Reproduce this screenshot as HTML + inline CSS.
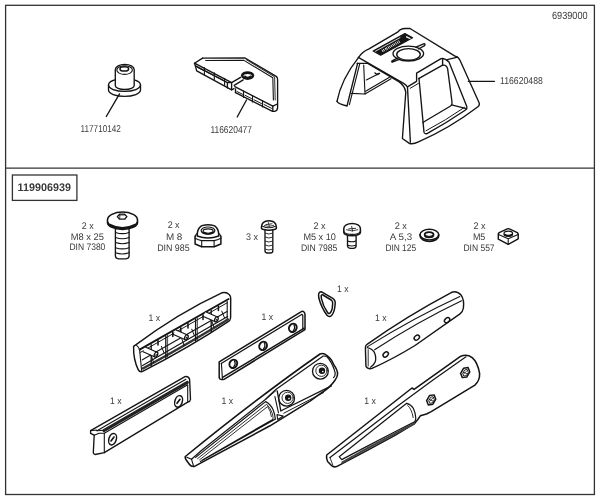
<!DOCTYPE html>
<html><head><meta charset="utf-8">
<style>
html,body{margin:0;padding:0;background:#fff;width:600px;height:500px;overflow:hidden}
svg{display:block;will-change:transform}
text{font-family:"Liberation Sans",sans-serif;fill:#3a3a3a;text-rendering:geometricPrecision}
</style></head><body>
<svg width="600" height="500" viewBox="0 0 600 500">
<rect x="0" y="0" width="600" height="500" fill="#fff"/>
<!-- frame -->
<g fill="none" stroke="#333" stroke-width="1.3">
<rect x="5.6" y="5.3" width="588.8" height="489.2"/>
<line x1="5.6" y1="168.1" x2="594.4" y2="168.1" stroke-width="1.4"/>
<rect x="12.4" y="175" width="64.5" height="25.4" stroke-width="1.3"/>
</g>
<!-- top labels -->
<g font-size="10">
<text x="552" y="18.8" font-size="10.5" textLength="35.6" lengthAdjust="spacingAndGlyphs">6939000</text>
<text x="80.6" y="131.7" textLength="40.2" lengthAdjust="spacingAndGlyphs">117710142</text>
<text x="210.4" y="132.5" textLength="41.6" lengthAdjust="spacingAndGlyphs">116620477</text>
<text x="500" y="83.8" textLength="42.8" lengthAdjust="spacingAndGlyphs">116620488</text>
</g>
<text x="17.6" y="190.7" font-size="11" font-weight="bold" fill="#151515" textLength="53.3" lengthAdjust="spacingAndGlyphs">119906939</text>
<!-- hardware labels -->
<g font-size="9.5" text-anchor="middle" lengthAdjust="spacingAndGlyphs">
<text x="87.8" y="228.7" textLength="11.90" lengthAdjust="spacingAndGlyphs">2 x</text>
<text x="87.4" y="239.7" textLength="33.10" lengthAdjust="spacingAndGlyphs">M8 x 25</text>
<text x="87.4" y="250.3" textLength="35.90" lengthAdjust="spacingAndGlyphs">DIN 7380</text>
<text x="173.6" y="228.3" textLength="11.95" lengthAdjust="spacingAndGlyphs">2 x</text>
<text x="174.1" y="239.5" textLength="16.45" lengthAdjust="spacingAndGlyphs">M 8</text>
<text x="173.4" y="251.0" textLength="32.45" lengthAdjust="spacingAndGlyphs">DIN 985</text>
<text x="251.9" y="239.7" textLength="11.95" lengthAdjust="spacingAndGlyphs">3 x</text>
<text x="319.4" y="228.5" textLength="11.95" lengthAdjust="spacingAndGlyphs">2 x</text>
<text x="319.6" y="239.5" textLength="32.45" lengthAdjust="spacingAndGlyphs">M5 x 10</text>
<text x="319.1" y="251.3" textLength="36.45" lengthAdjust="spacingAndGlyphs">DIN 7985</text>
<text x="400.75" y="228.5" textLength="12.20" lengthAdjust="spacingAndGlyphs">2 x</text>
<text x="400.9" y="239.5" textLength="22.45" lengthAdjust="spacingAndGlyphs">A 5,3</text>
<text x="400.75" y="251.3" textLength="30.70" lengthAdjust="spacingAndGlyphs">DIN 125</text>
<text x="479.4" y="228.5" textLength="11.95" lengthAdjust="spacingAndGlyphs">2 x</text>
<text x="479.1" y="239.5" textLength="12.45" lengthAdjust="spacingAndGlyphs">M5</text>
<text x="479.0" y="251.3" textLength="31.20" lengthAdjust="spacingAndGlyphs">DIN 557</text>
</g>
<!-- 1 x labels -->
<g font-size="9.4" text-anchor="middle">
<text x="154.25" y="320.6" textLength="11.6" lengthAdjust="spacingAndGlyphs">1 x</text>
<text x="267.3" y="320.0" textLength="11.6" lengthAdjust="spacingAndGlyphs">1 x</text>
<text x="342.9" y="292.3" textLength="11.6" lengthAdjust="spacingAndGlyphs">1 x</text>
<text x="380.7" y="320.6" textLength="11.6" lengthAdjust="spacingAndGlyphs">1 x</text>
<text x="115.7" y="403.9" textLength="11.6" lengthAdjust="spacingAndGlyphs">1 x</text>
<text x="227.3" y="403.8" textLength="11.6" lengthAdjust="spacingAndGlyphs">1 x</text>
<text x="370.0" y="403.6" textLength="11.6" lengthAdjust="spacingAndGlyphs">1 x</text>
</g>
<!-- PARTS -->
<g id="parts" fill="none" stroke="#141414" stroke-width="1.35" stroke-linejoin="round" stroke-linecap="round">
<!-- ===== Part 1: bushing ===== -->
<g>
<path d="M108.5,85 V90 A16,6.4 0 0 0 140.5,90 V85"/>
<ellipse cx="124.5" cy="85" rx="16" ry="6.4"/>
<path fill="#fff" d="M115.3,69.5 A9.45,5.1 0 0 1 134.2,69.5 V85.5 A9.45,4 0 0 1 115.3,85.5 Z"/>
<ellipse cx="124.6" cy="70.1" rx="7.8" ry="4.3" stroke-width="1.1"/>
<ellipse cx="124.3" cy="68.9" rx="4.3" ry="2.1" stroke-width="1.54"/>
<line x1="119.5" y1="93.9" x2="106.3" y2="116.5"/>
</g>
<!-- ===== Part 2: 116620477 ===== -->
<g>
<path d="M202.6,58.1 L245.1,58 L276.2,76.4 Q277.6,77.5 277.6,79.5 L277.6,107.4 Q277.6,110.6 274.5,111.3 L272.5,111.3 L235.5,92.6"/>
<path d="M202.6,58.1 L194.5,63.2 L195.4,66 L196.7,70.9 L231.6,89.8 L234,88.6"/>
<path d="M205.7,60.5 L243.9,60.4 L272.8,77.8 L273.4,99.9" stroke-width="1.1"/>
<path d="M246,59.5 L274.6,76.8 L275.2,100" stroke-width="0.88"/>
<path d="M194.5,63.2 L231.6,82.7 L240.6,77.3"/>
<path d="M195.6,65.8 L227.4,82.6 L231.6,82.7 M227.4,82.6 L227.4,88"/>
<path d="M231.6,82.7 L231.6,89.8"/>
<path d="M234.2,85.3 L243.2,79.9"/>
<path d="M234.8,86.6 L272.8,106.2 L277.4,104"/>
<path d="M235.5,89 L235.5,92.6"/>
<path d="M272.8,106.2 L272.8,111"/>
<!-- teeth left -->
<path d="M204.4,67.6 L204.4,74.6 M214.3,72.7 L214.3,80 M224.6,78.2 L224.6,85.5" stroke-width="1.1"/>
<path d="M197.5,67.5 L203.5,70.5 M206,71.5 L213.5,75.3 M216,76.5 L223.5,80.4" stroke-width="0.99"/>
<!-- teeth right -->
<path d="M243.5,91 L243.5,97.5 M252.5,95.6 L252.5,102 M262.5,100.8 L262.5,107" stroke-width="1.1"/>
<path d="M237,91.5 L242.5,94.3 M245,95.3 L251.5,98.6 M254,99.8 L261.5,103.6 M264,104.5 L271.5,108.3" stroke-width="0.99"/>
<!-- boss -->
<ellipse cx="247.6" cy="75.6" rx="5.4" ry="3" stroke-width="2.6"/>
<path d="M244.8,76.2 A3,1.6 0 0 0 250.6,76.2" stroke-width="1.5"/>
<line x1="246.5" y1="100" x2="237.2" y2="117"/>
</g>
<!-- ===== Part 3: roof cap 116620488 ===== -->
<g>
<!-- outer silhouette -->
<path d="M337,101.3 C339.5,88 347,72 358.6,57.3 Q362,51.8 369,48.8 L398,31.8 Q400.5,28.6 405,28.5 L410,28.5 L454.6,55.8 Q458.6,57 460,60.2 L479.2,103 Q480,105.2 477.6,107 Q450,128 419,141.6 Q413.5,144.4 409.7,143.6 L402.4,138.5 L405.8,92 Q404.5,85.5 398.8,81.6 L367.7,63.3 L357,63.3"/>
<!-- left leg -->
<path d="M337,101.3 Q338,104 347,106 L357.6,63.3"/>
<path d="M349.4,104.6 L359.8,63.5" stroke-width="1.1"/>
<!-- interior -->
<path d="M363.7,65 L365,94 L351.5,93.4" stroke-width="1.1"/>
<path d="M365,94 L391,78.7 M365.6,91.3 L389.5,77.2" stroke-width="1.1"/>
<path d="M366.3,80 L379.7,73.3" stroke-width="1.1"/>
<path d="M375,73 L377,74.5 L379,73.5" stroke-width="1.54"/>
<!-- ridge top/front -->
<path d="M358.3,57.3 L404,83.6 Q407.2,85.5 407.5,87.5 L410.4,142.2"/>
<path d="M407.5,86.8 L416.5,81.4"/>
<path d="M410.2,88.3 L418.5,83.4" stroke-width="0.99"/>
<!-- window frame outer -->
<path d="M416.6,80.6 L416.6,73.2 L441,58.6 Q444.5,57.8 449,62 L466.8,106.5 Q467.5,108.6 465.5,110 Q447,122.6 427,133.6 Q424.6,134.2 424,132.4 L419,78.5"/>
<path d="M447.2,59.6 L457.6,57.2"/>
<path d="M426,130.8 Q446,120.2 464.4,107.4" stroke-width="1"/>
<!-- window inner -->
<path d="M418.6,78.6 L442.6,65.2 Q446.4,64.6 447.6,68.6 L452,102 Q452.4,104.8 450.6,106 L422.8,122.5"/>
<path d="M442.6,58.6 L442.6,65.2 M451.6,104.8 L466.3,108.6"/>
<!-- top face: logo plate -->
<path d="M373.1,51.1 L404.9,33.5 L412.6,37.7 L380.7,55.3 Z" fill="#141414" stroke-width="1.1"/>
<path d="M375.4,51.3 L400,37.6" stroke="#fff" stroke-width="0.8"/>
<path d="M383.20,52.00 L381.94,49.73 M384.60,51.23 L383.34,48.95 M386.35,50.26 L385.09,47.98 M387.57,49.58 L386.32,47.30 M389.15,48.71 L387.89,46.43 M390.55,47.93 L389.29,45.66 M392.12,47.06 L390.87,44.79 M393.70,46.19 L392.44,43.91 M395.10,45.41 L393.84,43.14 M396.67,44.54 L395.41,42.27 M398.25,43.67 L396.99,41.40 M399.82,42.80 L398.56,40.52 " stroke="#fff" stroke-width="0.9" stroke-linecap="butt"/>
<path d="M406.6,36.8 L410,38.5" stroke="#fff" stroke-width="1.3"/>
<!-- round opening -->
<ellipse cx="408.3" cy="53.6" rx="15.3" ry="7.4"/>
<ellipse cx="408.5" cy="54.4" rx="11.8" ry="5.8"/>
<path d="M416,47.2 L424.2,43.6 Q425.6,44.4 424.6,45.6 L418.5,49" />
<path d="M398.6,59.6 L392.3,62.2 Q391.2,61.8 392.2,60.8 L397.3,58.2"/>
<!-- leader -->
<line x1="468.3" y1="81.3" x2="494.5" y2="81.3"/>
</g>

<!-- ===== M8x25 button head screw ===== -->
<g>
<path fill="#fff" d="M115.4,228 V256 Q115.6,258.6 118.5,258.8 H126 Q128.9,258.6 129.1,256 V228"/>
<path d="M115.6,232.4 Q122.3,234.8 129,232.4 M115.6,237.5 Q122.3,239.9 129,237.5 M115.6,242.6 Q122.3,245 129,242.6 M115.6,247.7 Q122.3,250.1 129,247.7 M115.6,252.8 Q122.3,255.2 129,252.8" stroke-width="1.1"/>
<path fill="#fff" d="M107.5,220 A15,8 0 0 1 137.5,220 V222.4 A15,7 0 0 1 107.5,222.4 Z" stroke-width="1.6"/>
<path d="M108.2,222.2 A14.3,5.6 0 0 0 136.8,222.2" stroke-width="1.1"/>
<path d="M109.6,224.8 Q122.5,231.6 135.4,224.8" stroke-width="2.3"/>
<path d="M117.3,216.6 L119.6,214.2 L124.6,214.2 L126.9,216.6 L124.6,219.2 L119.6,219.2 Z" stroke-width="1.3"/>
<path d="M119.8,215 L119.8,218.4 M119.8,215 L124.4,215" stroke-width="0.8"/>
</g>
<!-- ===== M8 nyloc nut ===== -->
<g>
<path d="M195.1,236.2 V244 L201.7,246.7 H214.1 L220.9,244 V236.2" stroke-width="1.5"/>
<path d="M195.1,238.2 Q198.5,240 201.7,240.6 H214.1 Q217.5,240 220.9,238.2" stroke-width="1.1"/>
<path d="M201.7,240.6 V246.7 M214.1,240.6 V246.7" stroke-width="1.1"/>
<path d="M195.1,236.2 Q196,233.6 198,233.4 M220.9,236.2 Q220,233.6 218,233.4" stroke-width="1.1"/>
<path fill="#fff" d="M197.2,236 C197.2,228 200,224.8 208,224.8 C216,224.8 218.8,228 218.8,236 Q208,240 197.2,236 Z" stroke-width="1.5"/>
<ellipse cx="208" cy="230.6" rx="6.9" ry="3.6" stroke-width="1.2"/>
<ellipse cx="208.1" cy="231.2" rx="5.1" ry="2.3" stroke-width="1.1"/>
<path d="M203.4,232.4 Q208,234.8 212.8,232.4" stroke-width="1.8"/>
</g>
<!-- ===== 3x pan head screw ===== -->
<g>
<path fill="#fff" d="M265,229 V251 Q265.2,253 267.5,253 H270.4 Q272.7,253 272.8,251 V229"/>
<path d="M265.2,233.2 Q268.9,235 272.6,233.2 M265.2,237.2 Q268.9,239 272.6,237.2 M265.2,241.2 Q268.9,243 272.6,241.2 M265.2,245.2 Q268.9,247 272.6,245.2 M265.2,249.2 Q268.9,251 272.6,249.2" stroke-width="1" stroke="#333"/>
<path fill="#fff" d="M261.4,227.6 Q261.4,220.8 268.9,220.8 Q276.4,220.8 276.4,227.6 Q276.4,229.6 274,229.6 Q268.9,231 263.8,229.6 Q261.4,229.6 261.4,227.6 Z" stroke-width="1.54"/>
<path d="M262.6,226.2 Q268.9,229.4 275.2,226.2" stroke-width="1.1"/>
<path d="M265.8,224.6 L272,223.8 M268.4,222.6 L269.3,226" stroke-width="1" stroke="#333"/>
<path d="M264.4,225.6 Q268.9,227.6 273.6,225.4" stroke-width="0.8"/>
</g>
<!-- ===== M5x10 pan head ===== -->
<g>
<path fill="#fff" d="M347.5,235 V246 Q347.8,248.2 350.5,248.3 H353.2 Q355.9,248.2 356.1,246 V235"/>
<path d="M347.7,241 Q351.8,242.6 355.9,241 M347.9,245.3 Q351.8,246.6 355.7,245.3" stroke-width="1.1"/>
<path fill="#fff" d="M343.8,228.4 A8.3,5 0 0 1 360.4,228.4 V232.4 A8.3,3.3 0 0 1 343.8,232.4 Z" stroke-width="1.54"/>
<path d="M344,231.6 A8.2,3.3 0 0 0 360.2,231.6" stroke-width="1.1"/>
<path d="M348.6,228.9 L355.6,228.3 M351.7,226.4 L352.5,231" stroke-width="1" stroke="#333"/>
<path d="M346.4,229.8 Q352.1,232.2 357.8,229.8" stroke-width="0.8"/>
</g>
<!-- ===== washer ===== -->
<g>
<path d="M420.1,234.6 V236 A9.3,5.3 0 0 0 438.7,236 V234.6" stroke-width="1.65"/>
<ellipse cx="429.4" cy="234.6" rx="9.3" ry="5.3" stroke-width="1.43"/>
<ellipse cx="429.1" cy="234.7" rx="4.4" ry="2.6" stroke-width="1.87"/>
<path d="M425.4,235.6 Q429.1,237.5 432.8,235.6" stroke-width="0.99"/>
</g>
<!-- ===== square nut ===== -->
<g>
<path d="M498.3,234.3 Q498.2,233.4 499.2,232.7 L507.3,228.9 Q508.3,228.5 509.3,228.9 L517.3,232.7 Q518.3,233.4 518.2,234.3 L518.2,238.8 L508.2,244.4 L498.3,239.2 Z" stroke-width="1.43"/>
<path d="M498.5,234.5 L508.2,238.8 L518,234.5 M508.2,238.8 V244.2" stroke-width="1.1"/>
<ellipse cx="508.3" cy="233.8" rx="4.3" ry="2.6" stroke-width="1.21"/>
<path d="M504.6,234.6 Q508.3,236.8 512,234.6" stroke-width="1.76"/>
</g>

<!-- ===== Part A: long holder ===== -->
<g>
<path d="M133.6,346.4 Q178,313 221.8,292.8 Q226.5,291.5 229.2,294.6 Q230.8,296.2 230.7,298.4 L230.6,318 Q230.2,320.6 228.2,321.6 Q190,347 142.2,371.6 Q139.4,372.2 138.2,369.6 Q133.2,359 133.6,346.4 Z" stroke-width="1.43"/>
<path d="M136.6,345.4 Q138.6,347 139.6,349.6 L141.6,370.4" stroke-width="1.1"/>
<path d="M139.6,349.6 L228.6,299" stroke-width="1.87"/>
<path d="M140,352.6 L227.5,302.6" stroke-width="0.99"/>
<path d="M227.2,301.5 L227.2,320.4" stroke-width="1.1"/>
<path d="M142.4,359.8 L227,311.4" stroke-width="1.1"/>
<path d="M142.6,365.6 L227.6,316.4" stroke-width="1.2"/>
<path d="M143,368.4 Q186,345 228,319.4" stroke-width="2.4" stroke="#333" stroke-dasharray="0.6,0.7"/>
<!-- walls -->
<path d="M151.2,344.6 L151.2,366 M165.8,336.3 L165.8,358 M195.6,319.3 L195.6,341 M211.2,310.4 L211.2,332" stroke-width="1.32"/>
<path d="M167.6,335.4 L167.6,357 M197.4,318.4 L197.4,340" stroke-width="0.77"/>
<path d="M180.8,327.8 L180.8,333 M158,340.6 L158,345 M172.8,332 L172.8,336.6 M188,323.4 L188,328 M203,314.8 L203,319.4 M218.4,306 L218.4,310.6" stroke-width="1.54"/>
<g transform="translate(156 354.6) rotate(24)">
<path d="M-13,-2.6 H0 V2.6 H-13 Z" fill="#fff" stroke="none"/>
<path d="M-13,-2.6 H0 M-13,2.6 H0" stroke-width="1.21"/>
<ellipse cx="0" cy="0" rx="1.6" ry="2.6" fill="#fff" stroke-width="1.32"/>
<ellipse cx="0.2" cy="0.3" rx="0.7" ry="1.1" fill="#1e1e1e" stroke="none"/>
</g>
<g transform="translate(186.4 337.4) rotate(24)">
<path d="M-13,-2.6 H0 V2.6 H-13 Z" fill="#fff" stroke="none"/>
<path d="M-13,-2.6 H0 M-13,2.6 H0" stroke-width="1.21"/>
<ellipse cx="0" cy="0" rx="1.6" ry="2.6" fill="#fff" stroke-width="1.32"/>
<ellipse cx="0.2" cy="0.3" rx="0.7" ry="1.1" fill="#1e1e1e" stroke="none"/>
</g>
<g transform="translate(216.4 319.4) rotate(24)">
<path d="M-13,-2.6 H0 V2.6 H-13 Z" fill="#fff" stroke="none"/>
<path d="M-13,-2.6 H0 M-13,2.6 H0" stroke-width="1.21"/>
<ellipse cx="0" cy="0" rx="1.6" ry="2.6" fill="#fff" stroke-width="1.32"/>
<ellipse cx="0.2" cy="0.3" rx="0.7" ry="1.1" fill="#1e1e1e" stroke="none"/>
</g>
<path d="M151.5,356.3 L153.7,362.9 M161.4,346.4 L164.1,353.0 M181.9,339.1 L184.1,345.7 M191.8,329.2 L194.5,335.8 M211.9,321.1 L214.1,327.7 M221.8,311.2 L224.5,317.8" stroke-width="1"/>
</g>
<!-- ===== Part B: flat plate ===== -->
<g>
<path d="M219.2,361.9 L301.8,311.4 Q303.6,310.8 304.4,312.7 Q305,313.6 305,315 L305,329.6 L224.4,379.2 Q219.6,380.4 219.2,377.6 Z" stroke-width="1.5"/>
<path d="M221.2,363.4 L302.1,314.3 L302.8,315.4 L302.8,329.4" stroke-width="1.2"/>
<path d="M221.4,363.4 L222.4,378.6" stroke-width="1.1"/>
<path d="M222.6,377.4 L304.2,328.2" stroke-width="1.5"/>
<ellipse cx="233.3" cy="363.8" rx="3.7" ry="4.3" transform="rotate(30 233.3 363.8)" stroke-width="2"/>
<ellipse cx="263.1" cy="345.9" rx="3.7" ry="4.3" transform="rotate(30 263.1 345.9)" stroke-width="2"/>
<ellipse cx="292.8" cy="327.8" rx="3.7" ry="4.3" transform="rotate(30 292.8 327.8)" stroke-width="2"/>
<path d="M234.6,361.4 Q236,364 233.8,366.6 M264.4,343.5 Q265.8,346.1 263.6,348.7 M294.1,325.4 Q295.5,328 293.3,330.6" stroke-width="1.3"/>
</g>
<!-- ===== Part C: ring ===== -->
<g>
<path d="M318.6,295 Q318.6,291.6 321.6,291.8 L332.4,298.2 Q335.6,300.4 335.2,304 L334.4,309.6 Q333,315 330.4,316.4 Q328.4,317 326.8,315 Q321.4,307.6 318.8,298 Z" stroke-width="1.5"/>
<path d="M321.2,296 Q321.4,294.4 323,295 L331.2,300 Q332.9,301.3 332.7,303.6 L332.2,308.4 Q331.4,312.4 329.6,313.4 Q328.5,313.9 327.7,312.8 Q323.2,306.6 321.4,298.6 Z" stroke-width="1.5"/>
</g>
<!-- ===== Part D: arm ===== -->
<g>
<path d="M365.4,347.2 Q365.6,345.2 367.4,344.2 Q405,317 451.7,292.3 Q457,290.6 461.2,295.2 Q464.4,300 463.4,308 Q462.8,312 460,313.8 L415,345.5 Q393,359 372,368.4 Q369.4,369.2 367.4,367.8 Q365.6,366.6 365.9,365.4 Z" stroke-width="1.43"/>
<path d="M367.2,347.6 Q371.9,348.4 374.4,352.4 Q376.6,357.4 375.2,361.7 Q374,365 370.6,367.2" stroke-width="1.32"/>
<path d="M368.2,349.6 L368.2,366" stroke-width="0.88"/>
<path d="M367.6,346.6 Q413.7,318 459.8,296.6" stroke-width="1.1"/>
<path d="M374.6,349.8 Q418,321.6 461.6,300.8" stroke-width="1.1"/>
<ellipse cx="385.7" cy="354.5" rx="2.1" ry="3" transform="rotate(50 385.7 354.5)" stroke-width="1.43"/>
<ellipse cx="416.8" cy="337.6" rx="2.1" ry="3" transform="rotate(50 416.8 337.6)" stroke-width="1.43"/>
<ellipse cx="447.1" cy="320.2" rx="2.1" ry="3" transform="rotate(50 447.1 320.2)" stroke-width="1.43"/>
</g>
<!-- ===== Part E: bar ===== -->
<g>
<path d="M90.6,430.7 L185,376.6 Q188.4,376 189.6,379.3 L190.5,399.5 Q190.2,401.6 187.7,402.2 L104.3,452.7 L95.2,454.5 Q93.4,454.2 93.3,452.7 L94.2,435.2 L90.6,433.4 Z"/>
<path d="M97,430.7 L185.9,379.3" stroke-width="1.1"/>
<path d="M103.8,430.6 L187.4,382.4" stroke-width="3" stroke="#222"/>
<path d="M104.3,433.2 L187.7,384.8 L187.7,402.2 M104.3,433.2 L104.3,452.7" stroke-width="1.1"/>
<path d="M90.6,430.7 L96.4,430 L97,430.7 L103.6,430.2 M94.2,435.2 L99,433.2 L104.3,433.2" stroke-width="1.1"/>
<ellipse cx="112.6" cy="439.2" rx="3.7" ry="5.9" transform="rotate(18 112.6 439.2)" stroke-width="1.5"/>
<ellipse cx="178.6" cy="401.4" rx="3.7" ry="5.9" transform="rotate(18 178.6 401.4)" stroke-width="1.5"/>
<path d="M111,441 L114,437 M177,403.3 L180,399.3" stroke-width="1.65"/>
</g>
<!-- ===== Part F: center pointed piece ===== -->
<g>
<path d="M185.3,456.5 C230,420 280,382 320,354 Q323.6,352.4 326.4,355.2 Q331.6,359 333.6,364.4 Q337.6,370 337.6,374 Q337.4,377.2 335,380.2 Q330,387.6 321,393.2 L310,401.2 L270,425.8 L194.5,466.4 Q191,466.8 189.5,464.5 L186.2,460 Q184.8,458 185.3,456.5 Z" stroke-width="1.54"/>
<path d="M186.8,457.2 L191.5,459.2 L202,450 L265,399.8 L275.8,389.4 L323.2,356 Q327,355.8 328.6,358.6 Q333.8,366 335.2,373.2 Q335.2,376.4 333.6,377.6" stroke-width="1.21"/>
<path d="M191.5,459.2 L193.4,465.6" stroke-width="1.1"/>
<!-- pad -->
<path d="M277.2,390.8 L280.8,411 L282.6,410 L331.4,385.8" stroke-width="1.32"/>
<path d="M274.9,396.6 L278.5,412.8" stroke-width="1.1"/>
<path d="M283.8,413.2 L323.6,392.6" stroke-width="0.99"/>
<path d="M277,414.6 L283.3,416 L277.7,419.5 Z" stroke-width="1.1"/>
<!-- bosses -->
<circle cx="320.4" cy="371.2" r="7.9" stroke-width="1.32"/>
<circle cx="321.4" cy="370.8" r="5.6" stroke-width="0.88"/>
<circle cx="322" cy="370.8" r="2.6" fill="#141414" stroke-width="1.2"/><circle cx="322.8" cy="371.6" r="0.8" fill="#fff" stroke="none"/>
<circle cx="286.6" cy="398.2" r="7.9" stroke-width="1.32"/>
<circle cx="287.6" cy="397.8" r="5.6" stroke-width="0.88"/>
<circle cx="288.2" cy="397.8" r="2.6" fill="#141414" stroke-width="1.2"/><circle cx="289" cy="398.6" r="0.8" fill="#fff" stroke="none"/>
<!-- window -->
<path d="M195.6,457.4 L265.6,401.6 Q270.6,404 273.2,410 Q275,414.6 275.2,418.6" stroke-width="1.21"/>
<path d="M197.6,458.6 L266.6,404.2 Q270.6,408 272.4,413.6 Q273.2,416.6 273,419.4" stroke-width="0.88"/>
<path d="M199.6,459.8 L267.6,406.6 Q270.8,410.6 271.4,416.6" stroke-width="0.88"/>
<path d="M200.4,461.6 L275.6,419 M202,460.2 L272.8,419.4" stroke-width="1.1"/>
<path d="M265.9,399.3 L276.2,390.4" stroke-width="0.99"/>
</g>
<!-- ===== Part G: right pointed piece ===== -->
<g>
<path d="M326.7,455 L412,388 L414.1,389.4 L460.8,356.2 Q467,353.8 472.2,357.6 Q477.6,362.2 479.6,373.4 Q480,380.4 474.9,385.1 L431.2,411.6 L426.5,414 L420.3,415.8 Q418,419.6 414.5,423.6 L395,435.4 L365,451.6 L336.6,466.6 Q333.4,467.4 331.7,465.8 L327.6,461.5 Q326,458 326.7,455 Z" stroke-width="1.54"/>
<path d="M330,457.6 L398,405.8 L433,379.9 L466,356.8" stroke-width="1.21"/>
<!-- hex holes -->
<path d="M434.10,394.88 L435.80,399.21 L432.90,404.23 L428.30,404.92 L426.60,400.59 L429.50,395.57 Z" stroke-width="1.5"/>
<path d="M433.30,397.08 L434.27,399.72 L432.48,402.84 L429.70,403.32 L428.73,400.68 L430.52,397.56 Z" stroke-width="0.9"/>
<path d="M429.6,401.3 L432.8,398.1 M429.0,399.3 L433.0,401.1" stroke-width="0.8"/>
<path d="M468.10,367.58 L469.80,371.91 L466.90,376.93 L462.30,377.62 L460.60,373.29 L463.50,368.27 Z" stroke-width="1.5"/>
<path d="M467.30,369.78 L468.27,372.42 L466.48,375.54 L463.70,376.02 L462.73,373.38 L464.52,370.26 Z" stroke-width="0.9"/>
<path d="M463.6,374.0 L466.8,370.8 M463.0,372.0 L467.0,373.8" stroke-width="0.8"/>
<!-- window -->
<path d="M339.2,456.7 L406.7,403.3 Q411.2,404.6 413.3,408.3 Q415.6,413 415.8,418.3 L415,421.6 L395,431.8 L365,447.4 L341.7,459.6 Z" stroke-width="1.21"/>
<path d="M407.8,405.6 Q411.6,408.6 413.2,417.6" stroke-width="0.88"/>
<path d="M342.4,462.4 L365,449.6 L395,433.6 L414.6,423.4" stroke-width="2.2" stroke="#444" stroke-dasharray="0.8,0.7"/>
<path d="M330,457.6 L333,465.6" stroke-width="0.88"/>
</g>


</g>
</svg>
</body></html>
